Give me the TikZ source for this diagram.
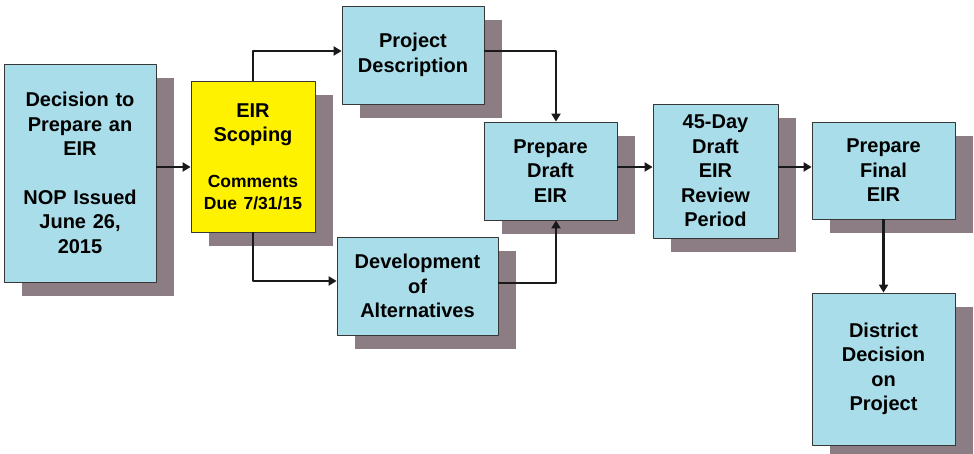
\documentclass[tikz,border=0pt]{standalone}
\usepackage{fontspec}
\setmainfont{Liberation Sans}
\usepackage{tikz}
\usetikzlibrary{arrows.meta, shadows}
\definecolor{stageblue}{RGB}{168,221,233}
\definecolor{shadowgray}{RGB}{139,125,131}
\definecolor{edgegray}{RGB}{55,55,55}

\begin{document}
\begin{tikzpicture}[x=1pt, y=-1pt, line join = round,
    stage/.style={draw=edgegray, line width=0.8pt, fill=stageblue, align=center, inner sep=0pt,
        font={\fontsize{20}{24.5}\selectfont\bfseries},
        drop shadow={shadow xshift=18pt, shadow yshift=-14pt, fill=shadowgray, draw=none, opacity=1}},
    flow/.style={line width=2.5pt, draw=black!90, -{Triangle[length=8pt, width=9pt]}}]
    \useasboundingbox (0,0) rectangle (974,454);

    \node[stage, text width=152pt, minimum height=218pt] (decide) at (80,173)
        {Decision to\\Prepare an\\EIR\\[24pt]NOP Issued\\June 26,\\2015};
    \node[stage, fill=yellow, text width=124pt, minimum height=151pt] (scoping) at (253,156.5)
        {EIR\\Scoping\\[21pt]{\fontsize{17.5}{21}\selectfont Comments}\\[-2.5pt]{\fontsize{17.5}{21}\selectfont Due 7/31/15}};
    \node[stage, text width=142pt, minimum height=98pt] (project) at (413,55) {Project\\Description};
    \node[stage, text width=161pt, minimum height=98pt] (alts) at (417.5,286) {Development\\of\\Alternatives};
    \node[stage, text width=133pt, minimum height=98pt] (draft) at (550.5,171) {Prepare\\Draft\\EIR};
    \node[stage, text width=125pt, minimum height=134pt] (review) at (715.5,171) {45-Day\\Draft\\EIR\\Review\\Period};
    \node[stage, text width=143pt, minimum height=97pt] (final) at (883.5,170.5) {Prepare\\Final\\EIR};
    \node[stage, text width=143pt, minimum height=152pt] (district) at (883.5,369) {District\\Decision\\on\\Project};

    % connectors
    \coordinate (row) at (0,167);
    \coordinate (join) at (556,0);
    \draw[flow] (decide.east |- row) -- (scoping.west |- row);
    \draw[flow] (scoping.north) |- ([yshift=4pt]project.west);
    \draw[flow] (scoping.south) |- ([yshift=5pt]alts.west);
    \draw[flow] ([yshift=4pt]project.east) -| (join |- draft.north);
    \draw[flow] ([yshift=3pt]alts.east) -| (join |- draft.south);
    \draw[flow] (draft.east |- row) -- (review.west |- row);
    \draw[flow] (review.east |- row) -- (final.west |- row);
    \draw[flow] (final.south) -- (district.north);
\end{tikzpicture}
\end{document}
